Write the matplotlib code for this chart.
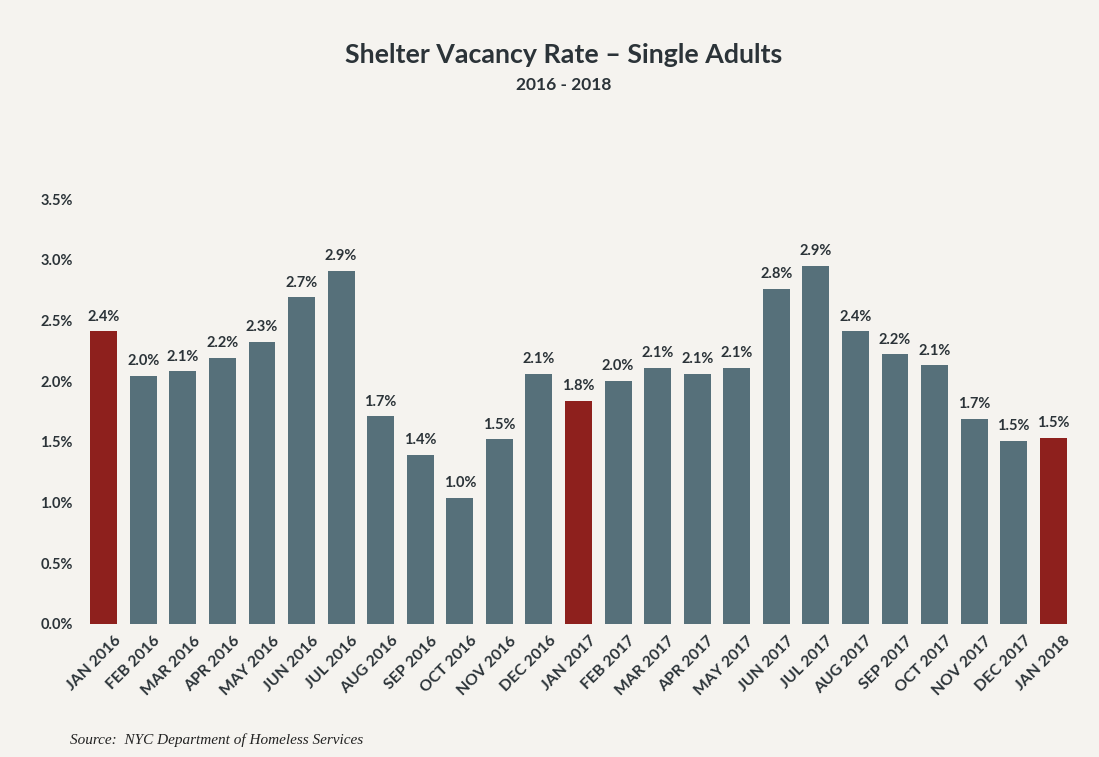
import matplotlib
matplotlib.use("Agg")
import matplotlib.pyplot as plt

months = ["JAN 2016", "FEB 2016", "MAR 2016", "APR 2016", "MAY 2016", "JUN 2016",
          "JUL 2016", "AUG 2016", "SEP 2016", "OCT 2016", "NOV 2016", "DEC 2016",
          "JAN 2017", "FEB 2017", "MAR 2017", "APR 2017", "MAY 2017", "JUN 2017",
          "JUL 2017", "AUG 2017", "SEP 2017", "OCT 2017", "NOV 2017", "DEC 2017",
          "JAN 2018"]
values = [2.41, 2.04, 2.08, 2.19, 2.32, 2.69, 2.91, 1.71, 1.39, 1.04, 1.52, 2.06,
          1.84, 2.00, 2.11, 2.06, 2.11, 2.76, 2.95, 2.41, 2.22, 2.13, 1.69, 1.51, 1.53]
labels = ["2.4%", "2.0%", "2.1%", "2.2%", "2.3%", "2.7%", "2.9%", "1.7%", "1.4%", "1.0%",
          "1.5%", "2.1%", "1.8%", "2.0%", "2.1%", "2.1%", "2.1%", "2.8%", "2.9%", "2.4%",
          "2.2%", "2.1%", "1.7%", "1.5%", "1.5%"]
yticks = [0.0, 0.5, 1.0, 1.5, 2.0, 2.5, 3.0, 3.5]

RED = "#8E201D"
GRAY = "#56707A"
TXT = "#2B3338"
BG = "#F5F3EF"

plt.rcParams['font.family'] = ['Lato', 'DejaVu Sans']

fig = plt.figure(figsize=(10.99, 7.57), dpi=100, facecolor=BG)
ax = fig.add_axes([0.0764, 0.1757, 0.9, 0.5613])
ax.set_facecolor(BG)

colors = [RED if m.startswith("JAN") else GRAY for m in months]
x = list(range(len(months)))
bars = ax.bar(x, values, width=0.68, color=colors)
for xi, v, lab in zip(x, values, labels):
    ax.text(xi, v + 0.065, lab, ha='center', va='bottom', fontsize=10.5,
            fontweight='bold', color=TXT)

ax.set_xlim(-0.5, len(months) - 0.5)
ax.set_ylim(0, 3.5)
ax.set_yticks(yticks)
ax.set_yticklabels([f"{t:.1f}%" for t in yticks], fontsize=10.5, fontweight='bold', color=TXT)
ax.set_xticks(x)
ax.set_xticklabels(months, rotation=45, ha='right', rotation_mode='anchor',
                   fontsize=11.3, fontweight='bold', color=TXT)
for t in ax.get_xticklabels():
    t.set_x(t.get_position()[0])
ax.tick_params(axis='both', length=0)
ax.tick_params(axis='y', pad=8)
ax.tick_params(axis='x', pad=7)
for s in ax.spines.values():
    s.set_visible(False)

# shift x labels slightly right to match anchor
import matplotlib.transforms as mtransforms
offset = mtransforms.ScaledTranslation(10 / 100, 0, fig.dpi_scale_trans)
for t in ax.get_xticklabels():
    t.set_transform(t.get_transform() + offset)

fig.text(0.513, 0.927, "Shelter Vacancy Rate \u2013 Single Adults", ha='center', va='center',
         fontsize=19.3, fontweight='bold', color=TXT)
fig.text(0.513, 0.888, "2016 - 2018", ha='center', va='center',
         fontsize=12.5, fontweight='bold', color=TXT)
fig.text(0.064, 0.022, "Source:  NYC Department of Homeless Services", ha='left', va='center',
         fontsize=11, style='italic', family='Liberation Serif', color="#222222")

fig.savefig("out.png", dpi=100, facecolor=BG)
